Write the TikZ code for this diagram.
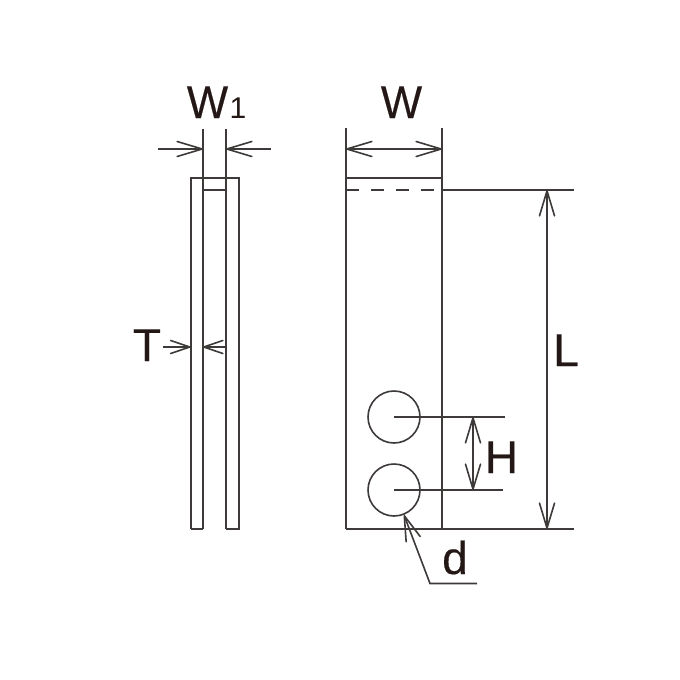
\documentclass[tikz,border=0pt]{standalone}
\usepackage{fontspec}
\setmainfont{Liberation Sans}
\newfontfamily\labfont[FakeBold=0.35]{Liberation Sans}
\usetikzlibrary{arrows.meta}
\definecolor{ink}{HTML}{3E3A39}
\definecolor{txt}{HTML}{231815}
\tikzset{
  part/.style={draw=ink,line width=1.7pt},
  barb/.tip={Straight Barb[length=25pt,width=15pt,line width=1.6pt,round]},
  smallbarb/.tip={Straight Barb[length=19pt,width=13pt,line width=1.6pt,round]},
  dim/.style={draw=ink,line width=1.6pt},
  dimboth/.style={dim,{barb}-{barb}},
  dimto/.style={dim,-{barb}},
  dimshort/.style={dim,-{smallbarb}},
  hole/.style={draw=ink,line width=1.6pt,circle,minimum size=52pt,inner sep=0pt},
  lab/.style={inner sep=0pt,text=txt,font=\labfont\fontsize{46}{46}\selectfont,anchor=base},
  widelab/.style={lab,xscale=0.95},
  sublab/.style={inner sep=0pt,text=txt,font=\fontsize{30}{30}\selectfont,anchor=base}
}
\begin{document}
\begin{tikzpicture}[x=1pt,y=-1pt]
\useasboundingbox (0,0) rectangle (680,680);
% left view
\coordinate (la) at (203,129); \coordinate (lb) at (203,529);
\coordinate (ra) at (226,129); \coordinate (rb) at (226,529);
\draw[part] (191,529) -- (191,178) -- (239,178) -- (239,529) -- (226,529);
\draw[part] (191,529) -- (203,529);
\draw[part] (la) -- (lb);
\draw[part] (ra) -- (rb);
\draw[part] (203,190) -- (226,190);
\coordinate (w1l) at (158,149); \coordinate (w1lt) at (203,149);
\coordinate (w1r) at (271,149); \coordinate (w1rt) at (226,149);
\draw[dimto] (w1l) -- (w1lt);
\draw[dimto] (w1r) -- (w1rt);
\coordinate (tl) at (163,347); \coordinate (tlt) at (190.5,347);
\coordinate (tr) at (226,347); \coordinate (trt) at (203,347);
\draw[dimshort] (tl) -- (tlt);
\draw[dimshort] (tr) -- (trt);
\node[widelab] (w1) at (207.5,118) {W};
\node[sublab] (w1s) at (238,118) {1};
\node[lab] (t) at (147,361) {T};
% right view
\coordinate (wl) at (346,128); \coordinate (wr) at (442,128);
\coordinate (bl) at (346,529); \coordinate (br) at (442,529);
\coordinate (be) at (574,529);
\draw[part] (wl) -- (bl);
\draw[part] (wr) -- (br);
\draw[part] (bl) -- (be);
\draw[part] (346,178) -- (442,178);
\draw[part,dash pattern=on 13pt off 12pt] (346,190) -- (442,190);
\draw[part] (442,190) -- (574,190);
\node[hole] (h1) at (394,417) {};
\node[hole] (h2) at (394,490) {};
\draw[part] (h1.center) -- (505,417);
\draw[part] (h2.center) -- (503,490);
\draw[dimboth] (346,149) -- (442,149);
\draw[dimboth] (547,190) -- (547,529);
\draw[dimboth] (473,417) -- (473,490);
\coordinate (dk) at (430,583.5); \coordinate (de) at (477,583.5);
\draw[dim,-{barb}] (de) -- (dk) -- (404,515);
\node[widelab] (w) at (401.5,118) {W};
\node[lab] (l) at (566,366) {L};
\node[lab] (h) at (501.5,473) {H};
\node[lab] (d) at (455,574) {d};
\end{tikzpicture}
\end{document}
